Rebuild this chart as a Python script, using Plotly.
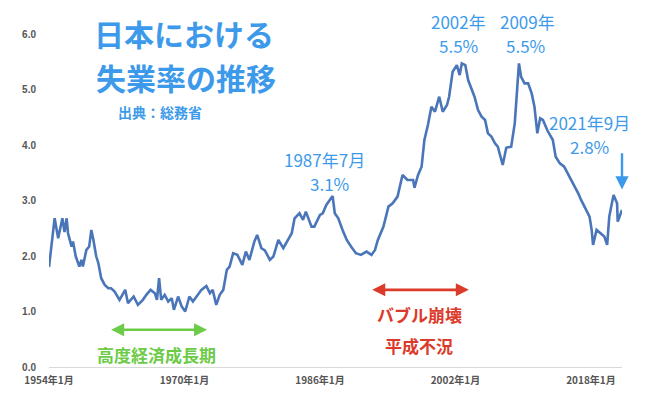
"""Japan unemployment rate 1954-2021 (line chart)."""
import pandas as pd
import plotly.graph_objects as go

# values (month, rate %)
months = [
    "1954-01", "1954-09", "1955-02", "1955-08", "1955-11", "1956-02", "1956-04", "1956-09",
    "1956-11", "1957-03", "1957-08", "1957-11", "1958-01", "1958-06", "1958-10", "1959-01",
    "1959-04", "1959-08", "1959-11", "1960-03", "1960-08", "1961-01", "1961-05", "1961-10",
    "1962-05", "1963-01", "1963-05", "1964-01", "1964-07", "1965-02", "1965-07", "1966-01",
    "1966-07", "1966-10", "1967-01", "1967-04", "1967-09", "1968-02", "1968-07", "1968-10",
    "1969-04", "1969-09", "1970-02", "1970-08", "1971-01", "1971-08", "1972-01", "1972-08",
    "1973-01", "1973-05", "1973-10", "1974-03", "1974-08", "1975-01", "1975-05", "1975-10",
    "1976-04", "1976-11", "1977-04", "1977-09", "1978-04", "1978-08", "1979-02", "1979-07",
    "1980-02", "1980-07", "1981-02", "1981-09", "1982-04", "1982-09", "1983-01", "1983-08",
    "1984-01", "1984-05", "1985-01", "1985-05", "1986-01", "1986-05", "1986-10", "1987-07",
    "1987-10", "1988-03", "1988-09", "1989-03", "1989-09", "1990-04", "1990-11", "1991-07",
    "1992-02", "1992-07", "1992-11", "1993-07", "1994-02", "1994-08", "1995-03", "1995-10",
    "1996-05", "1997-01", "1997-03", "1997-08", "1998-01", "1998-05", "1998-10", "1999-03",
    "1999-08", "2000-02", "2000-07", "2001-01", "2001-04", "2001-09", "2002-03", "2002-07",
    "2002-10", "2003-03", "2003-07", "2003-11", "2004-04", "2004-09", "2005-02", "2005-07",
    "2005-11", "2006-04", "2006-09", "2007-01", "2007-08", "2008-01", "2008-08", "2009-01",
    "2009-07", "2009-10", "2010-03", "2010-08", "2011-01", "2011-05", "2011-09", "2012-01",
    "2012-05", "2012-11", "2013-07", "2013-11", "2014-05", "2014-11", "2015-07", "2016-02",
    "2016-07", "2016-11", "2017-04", "2017-11", "2018-02", "2018-04", "2018-09", "2019-03",
    "2019-08", "2019-12", "2020-03", "2020-09", "2021-02", "2021-03", "2021-09",
]
rates = [
    1.80, 2.68, 2.32, 2.68, 2.43, 2.68, 2.41, 2.17,
    2.26, 1.99, 1.81, 1.93, 1.81, 2.11, 2.17, 2.47,
    2.29, 1.99, 1.87, 1.60, 1.48, 1.42, 1.42, 1.36,
    1.21, 1.39, 1.15, 1.27, 1.12, 1.21, 1.30, 1.39,
    1.33, 1.21, 1.60, 1.21, 1.30, 1.18, 1.24, 1.03,
    1.27, 1.09, 1.00, 1.27, 1.18, 1.30, 1.39, 1.46,
    1.33, 1.39, 1.12, 1.30, 1.39, 1.75, 1.81, 2.05,
    2.02, 1.84, 2.08, 1.93, 2.26, 2.38, 2.14, 2.10,
    1.93, 1.99, 2.29, 2.14, 2.29, 2.41, 2.68, 2.77,
    2.65, 2.80, 2.53, 2.53, 2.74, 2.77, 2.92, 3.08,
    2.77, 2.68, 2.47, 2.29, 2.17, 2.05, 2.02, 2.08,
    2.02, 2.11, 2.29, 2.53, 2.89, 2.95, 3.07, 3.46,
    3.37, 3.37, 3.23, 3.46, 3.61, 4.09, 4.36, 4.69,
    4.60, 4.87, 4.60, 4.72, 4.87, 5.32, 5.44, 5.26,
    5.47, 5.44, 5.17, 5.05, 4.87, 4.63, 4.51, 4.45,
    4.21, 4.15, 4.03, 3.97, 3.64, 3.95, 3.97, 4.39,
    5.47, 5.23, 5.11, 5.11, 4.93, 4.69, 4.21, 4.48,
    4.45, 4.27, 4.09, 3.79, 3.67, 3.61, 3.43, 3.25,
    3.13, 3.01, 2.89, 2.71, 2.47, 2.20, 2.47, 2.41,
    2.35, 2.20, 2.71, 3.10, 2.95, 2.62, 2.83,
]

tick_dates = ["1954-01-01", "1970-01-01", "1986-01-01", "2002-01-01", "2018-01-01"]
tick_labels = ["1954年1月", "1970年1月", "1986年1月", "2002年1月", "2018年1月"]
y_ticks = [0, 1, 2, 3, 4, 5, 6]

df = pd.DataFrame({"month": pd.to_datetime(months), "rate": rates})

BLUE = "#3d9aea"
GREEN = "#6ccb47"
RED = "#dc3a2a"
JP = "Noto Sans CJK JP"
YMAX = 6.0

fig = go.Figure()
fig.add_trace(go.Scatter(x=df["month"], y=df["rate"], mode="lines",
                         line=dict(color="#4a76b9", width=2.6), hoverinfo="skip"))


def label(text, x, y, color, size, bold=False):
    # y in data units, placed on paper so text above the axis range still shows
    if bold:
        text = "<b>" + text + "</b>"
    fig.add_annotation(x=x, y=y / YMAX, xref="x", yref="paper", text=text, showarrow=False,
                       xanchor="center", yanchor="middle",
                       font=dict(family=JP, size=size, color=color))


def span(x0, x1, y, color):
    fig.add_annotation(x=x1, y=y, ax=x0, ay=y, xref="x", yref="y", axref="x", ayref="y",
                       text="", showarrow=True, arrowhead=2, arrowside="end+start",
                       arrowsize=1, arrowwidth=2.6, arrowcolor=color)


# title
label("日本における", "1970-01-01", 6.02, BLUE, 30, True)
label("失業率の推移", "1970-03-01", 5.23, BLUE, 30, True)
label("出典：総務省", "1967-02-01", 4.6, BLUE, 14, True)

# peaks
label("1987年7月", "1986-08-01", 3.73, BLUE, 17)
label("3.1%", "1987-03-01", 3.30, BLUE, 17)
label("2002年", "2002-06-01", 6.23, BLUE, 17)
label("5.5%", "2002-06-01", 5.79, BLUE, 17)
label("2009年", "2010-07-01", 6.23, BLUE, 17)
label("5.5%", "2010-05-01", 5.79, BLUE, 17)
label("2021年9月", "2017-11-01", 4.41, BLUE, 17)
label("2.8%", "2017-11-01", 3.98, BLUE, 17)
fig.add_annotation(x="2021-09-01", y=3.2, ax="2021-09-01", ay=3.88, xref="x", yref="y",
                   axref="x", ayref="y", text="", showarrow=True, arrowhead=2,
                   arrowsize=1.1, arrowwidth=2.4, arrowcolor=BLUE)

# periods
span("1961-03-01", "1972-09-01", 0.67, GREEN)
label("高度経済成長期", "1966-10-01", 0.22, GREEN, 17, True)
span("1992-01-01", "2003-08-01", 1.39, RED)
label("バブル崩壊", "1997-10-01", 0.94, RED, 17, True)
label("平成不況", "1997-10-01", 0.39, RED, 17, True)

# page body has an 8px offset, so the figure is drawn 8px smaller
fig.update_layout(
    width=639, height=392,
    margin=dict(l=41, r=25, t=26, b=33),
    plot_bgcolor="white", paper_bgcolor="white",
    showlegend=False,
    font=dict(family=JP),
)
fig.update_xaxes(range=["1954-01-01", "2021-09-01"], tickvals=tick_dates, ticktext=tick_labels,
                 tickfont=dict(size=10, color="#555555", family=JP, weight="bold"),
                 showgrid=False, showline=True, linecolor="#d9d9d9", linewidth=1, ticks="",
                 zeroline=False, automargin=False, ticklabelstandoff=4)
fig.update_yaxes(range=[0, YMAX], tickvals=y_ticks, tickformat=".1f",
                 tickfont=dict(size=10, color="#555555", family="Liberation Sans", weight="bold"),
                 showgrid=False, zeroline=False, ticks="", ticklabelstandoff=12,
                 automargin=False)

fig.write_html("out.html")
